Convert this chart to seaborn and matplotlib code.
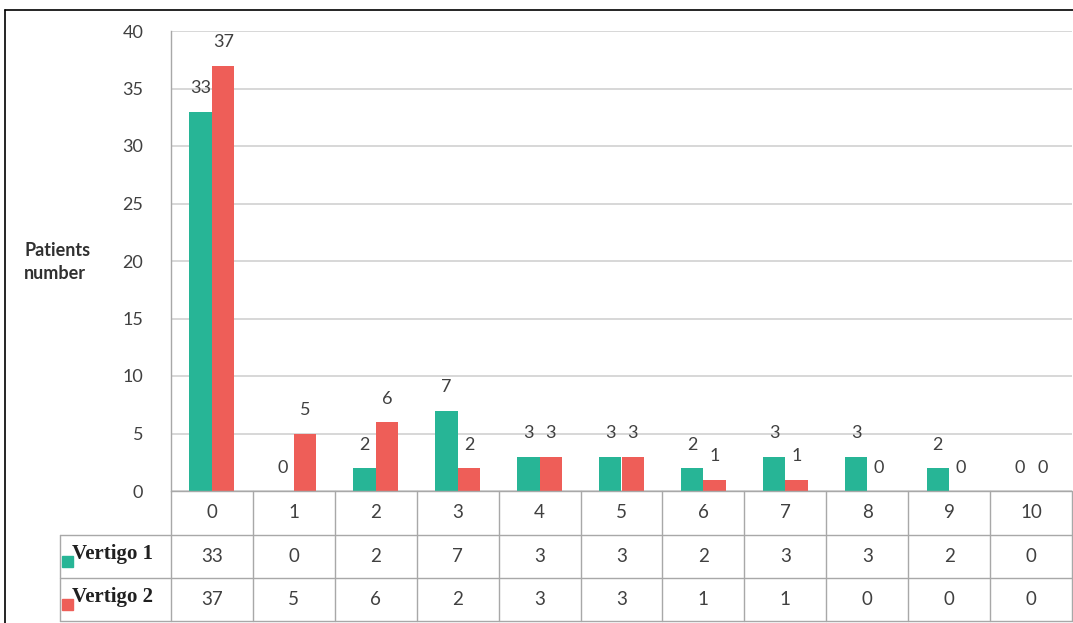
import pandas as pd
import seaborn as sns
import matplotlib.pyplot as plt
from matplotlib.patches import Rectangle

# chart data
categories = ["0", "1", "2", "3", "4", "5", "6", "7", "8", "9", "10"]
vertigo1 = [33, 0, 2, 7, 3, 3, 2, 3, 3, 2, 0]
vertigo2 = [37, 5, 6, 2, 3, 3, 1, 1, 0, 0, 0]
series_names = ["Vertigo 1", "Vertigo 2"]
yticks = [0, 5, 10, 15, 20, 25, 30, 35, 40]

teal = "#27B596"
red = "#EE5E58"
grey_txt = "#404040"
line_col = "#A8A8A8"

df = pd.DataFrame({
    "score": categories * 2,
    "patients": vertigo1 + vertigo2,
    "series": [series_names[0]] * len(categories) + [series_names[1]] * len(categories),
})

sns.set_style("white")
plt.rcParams["font.family"] = ["Lato", "DejaVu Sans"]

fig = plt.figure(figsize=(10.73, 6.23), dpi=100)
ax = fig.add_axes([171 / 1073, 1 - 491 / 623, 901 / 1073, 460 / 623])

sns.barplot(data=df, x="score", y="patients", hue="series", order=categories,
            palette=[teal, red], width=0.55, gap=0, saturation=1,
            linewidth=0, legend=False, ax=ax)

for cont in ax.containers:
    ax.bar_label(cont, labels=[str(int(v)) for v in cont.datavalues],
                 padding=11, fontsize=13, color=grey_txt)

ax.set_ylim(0, 40)
ax.set_xlim(-0.5, len(categories) - 0.5)
ax.set_yticks(yticks)
ax.set_yticklabels([str(t) for t in yticks], fontsize=13, color=grey_txt)
ax.tick_params(axis="y", length=0, pad=20)
ax.set_xticks([])
ax.set_xlabel("")
ax.set_ylabel("")
ax.yaxis.grid(True, color="#D4D4D4", linewidth=1.3)
ax.set_axisbelow(True)
for s in ["top", "right", "bottom"]:
    ax.spines[s].set_visible(False)
ax.spines["left"].set_color(line_col)
ax.spines["left"].set_linewidth(1)

fig.text(24 / 1073, 1 - 262 / 623, "Patients\nnumber", fontsize=13,
         fontweight="bold", color="#303030", va="center", ha="left",
         linespacing=1.45)

# data table under the axis
tr = ax.get_xaxis_transform()
h_head = -44 / 460
h_r1 = -87 / 460
h_r2 = -130 / 460
x_lab = -0.5 - 111 / 81.9
n = len(categories)

lkw = dict(color=line_col, linewidth=1, clip_on=False, transform=tr)
ax.plot([-0.5, n - 0.5], [0, 0], **lkw)
ax.plot([x_lab, n - 0.5], [h_head, h_head], **lkw)
ax.plot([x_lab, n - 0.5], [h_r1, h_r1], **lkw)
ax.plot([x_lab, n - 0.5], [h_r2, h_r2], **lkw)
ax.plot([x_lab, x_lab], [h_head, h_r2], **lkw)
for i in range(n + 1):
    ax.plot([i - 0.5, i - 0.5], [0, h_r2], **lkw)

tkw = dict(transform=tr, ha="center", va="center", fontsize=13.5,
           color=grey_txt, clip_on=False)
for i, c in enumerate(categories):
    ax.text(i, h_head / 2, c, **tkw)
    ax.text(i, (h_head + h_r1) / 2, str(vertigo1[i]), **tkw)
    ax.text(i, (h_r1 + h_r2) / 2, str(vertigo2[i]), **tkw)

for name, col, y0, y1 in [(series_names[0], teal, h_head, h_r1),
                          (series_names[1], red, h_r1, h_r2)]:
    ym = (y0 + y1) / 2
    ax.add_patch(Rectangle((x_lab + 0.03, ym - 0.022), 0.13, 0.024,
                           color=col, transform=tr, clip_on=False))
    ax.text(x_lab + 0.15, ym + 0.006, name, transform=tr, ha="left",
            va="center", fontsize=15, fontweight="bold", color="#202020",
            family=["Liberation Serif", "DejaVu Serif"], clip_on=False)

# outer frame
fig.add_artist(plt.Line2D([5 / 1073, 5 / 1073], [0, 1 - 10 / 623],
                          color="black", linewidth=1.2))
fig.add_artist(plt.Line2D([5 / 1073, 1], [1 - 10 / 623, 1 - 10 / 623],
                          color="black", linewidth=1.2))

fig.savefig("out.png", dpi=100)
